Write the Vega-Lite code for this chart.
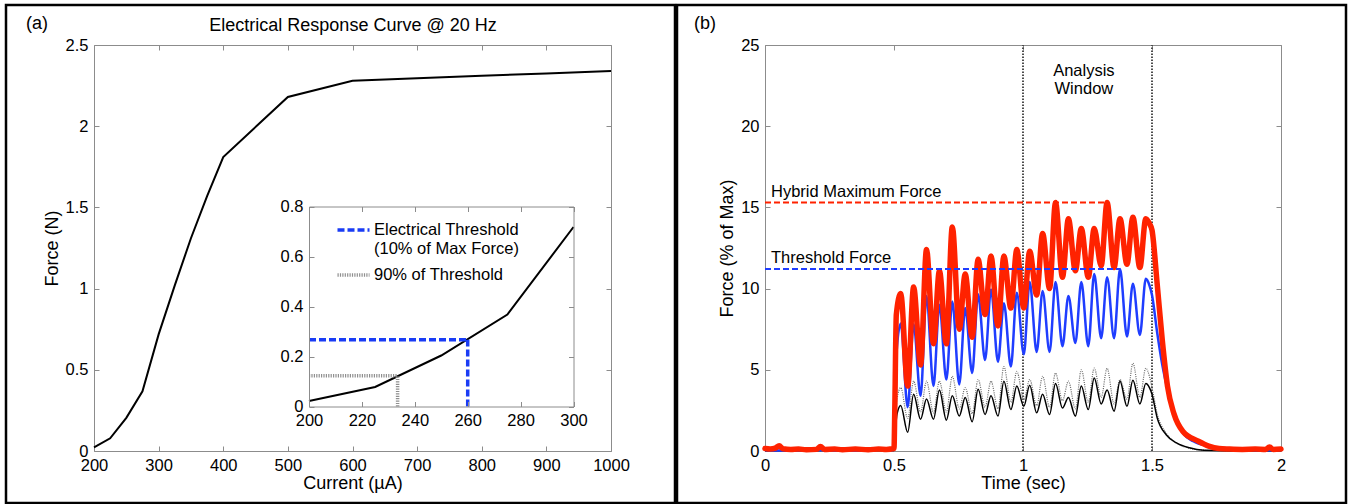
{
"$schema": "https://vega.github.io/schema/vega-lite/v6.json",
"background": "white",
"padding": {"left": 4, "top": 3, "right": 2, "bottom": 0},
"bounds": "flush",
"spacing": 2,
"config": {
  "font": "Liberation Sans",
  "view": {"stroke": "black", "strokeWidth": 2.5},
  "axis": {"grid": false, "domainColor": "#8c8c8c", "domainWidth": 1, "tickColor": "#8c8c8c", "tickWidth": 1, "tickSize": -5, "labelPadding": 11, "labelColor": "black", "labelFontSize": 16.5, "titleColor": "black", "titleFontSize": 18, "titleFontWeight": "normal", "labelFlush": false, "labelOverlap": false},
  "title": {"fontSize": 18, "fontWeight": "normal", "color": "black"}
},
"datasets": {
  "response": [{"current":200,"force":0.022},{"current":225,"force":0.078},{"current":250,"force":0.204},{"current":275,"force":0.368},{"current":300,"force":0.718},{"current":325,"force":1.02},{"current":350,"force":1.31},{"current":375,"force":1.57},{"current":400,"force":1.81},{"current":500,"force":2.18},{"current":600,"force":2.28},{"current":700,"force":2.295},{"current":800,"force":2.31},{"current":900,"force":2.325},{"current":1000,"force":2.34}],
  "thresholds": [
    {"series":"Electrical Threshold\n(10% of Max Force)","current":200,"current2":260,"force":0.267,"force2":0.267},
    {"series":"Electrical Threshold\n(10% of Max Force)","current":260,"current2":260,"force":0,"force2":0.267},
    {"series":"90% of Threshold","current":200,"current2":233.5,"force":0.123,"force2":0.123},
    {"series":"90% of Threshold","current":233.5,"current2":233.5,"force":0,"force2":0.123}],
  "hybrid": [{"time":0,"force":0.15},{"time":0.02,"force":0.12},{"time":0.04,"force":0.18},{"time":0.055,"force":0.32},{"time":0.07,"force":0.14},{"time":0.1,"force":0.1},{"time":0.13,"force":0.12},{"time":0.16,"force":0.08},{"time":0.2,"force":0.1},{"time":0.215,"force":0.28},{"time":0.23,"force":0.1},{"time":0.27,"force":0.12},{"time":0.3,"force":0.08},{"time":0.35,"force":0.12},{"time":0.4,"force":0.08},{"time":0.44,"force":0.12},{"time":0.47,"force":0.1},{"time":0.5,"force":0.15},{"time":0.503,"force":2.5},{"time":0.509,"force":8.4},{"time":0.526,"force":9.7},{"time":0.553,"force":4.0},{"time":0.576,"force":10.1},{"time":0.603,"force":5.3},{"time":0.626,"force":12.4},{"time":0.653,"force":6.6},{"time":0.676,"force":11.1},{"time":0.703,"force":6.6},{"time":0.726,"force":13.8},{"time":0.753,"force":7.5},{"time":0.776,"force":10.9},{"time":0.803,"force":7.0},{"time":0.826,"force":11.8},{"time":0.853,"force":8.4},{"time":0.876,"force":12.0},{"time":0.903,"force":7.7},{"time":0.926,"force":12.0},{"time":0.953,"force":8.8},{"time":0.976,"force":12.4},{"time":1.003,"force":8.8},{"time":1.026,"force":12.3},{"time":1.053,"force":9.6},{"time":1.076,"force":13.4},{"time":1.103,"force":10.0},{"time":1.126,"force":15.3},{"time":1.153,"force":10.7},{"time":1.176,"force":14.3},{"time":1.203,"force":11.1},{"time":1.226,"force":13.7},{"time":1.253,"force":10.7},{"time":1.276,"force":13.7},{"time":1.303,"force":11.4},{"time":1.326,"force":15.3},{"time":1.353,"force":11.3},{"time":1.376,"force":14.3},{"time":1.403,"force":11.5},{"time":1.426,"force":14.4},{"time":1.453,"force":11.3},{"time":1.476,"force":14.3},{"time":1.49,"force":14.0},{"time":1.5,"force":13.6},{"time":1.52,"force":10.3},{"time":1.54,"force":6.8},{"time":1.56,"force":4.0},{"time":1.585,"force":2.3},{"time":1.62,"force":1.2},{"time":1.68,"force":0.6},{"time":1.72,"force":0.3},{"time":1.76,"force":0.15},{"time":1.8,"force":0.12},{"time":1.85,"force":0.1},{"time":1.9,"force":0.12},{"time":1.94,"force":0.1},{"time":1.955,"force":0.25},{"time":1.97,"force":0.1},{"time":2.0,"force":0.12}],
  "threshold": [{"time":0,"force":0.05},{"time":0.1,"force":0.03},{"time":0.2,"force":0.06},{"time":0.3,"force":0.03},{"time":0.4,"force":0.05},{"time":0.45,"force":0.15},{"time":0.48,"force":0.05},{"time":0.5,"force":0.08},{"time":0.504,"force":1.5},{"time":0.511,"force":6.3},{"time":0.526,"force":7.85},{"time":0.553,"force":2.7},{"time":0.576,"force":7.8},{"time":0.603,"force":3.4},{"time":0.626,"force":9.55},{"time":0.653,"force":4.0},{"time":0.676,"force":9.0},{"time":0.703,"force":4.4},{"time":0.726,"force":9.2},{"time":0.753,"force":4.1},{"time":0.776,"force":8.8},{"time":0.803,"force":4.8},{"time":0.826,"force":9.65},{"time":0.853,"force":5.6},{"time":0.876,"force":9.95},{"time":0.903,"force":5.5},{"time":0.926,"force":9.1},{"time":0.953,"force":5.2},{"time":0.976,"force":9.75},{"time":1.003,"force":5.95},{"time":1.026,"force":10.4},{"time":1.053,"force":6.1},{"time":1.076,"force":9.85},{"time":1.103,"force":6.1},{"time":1.126,"force":10.4},{"time":1.153,"force":6.45},{"time":1.176,"force":9.55},{"time":1.203,"force":6.65},{"time":1.226,"force":10.4},{"time":1.253,"force":6.45},{"time":1.276,"force":10.9},{"time":1.303,"force":6.95},{"time":1.326,"force":10.7},{"time":1.353,"force":6.95},{"time":1.376,"force":11.2},{"time":1.403,"force":7.05},{"time":1.426,"force":10.3},{"time":1.453,"force":7.15},{"time":1.476,"force":10.6},{"time":1.49,"force":10.2},{"time":1.5,"force":9.6},{"time":1.52,"force":7.3},{"time":1.54,"force":5.3},{"time":1.56,"force":3.8},{"time":1.58,"force":2.5},{"time":1.62,"force":1.1},{"time":1.66,"force":0.6},{"time":1.72,"force":0.3},{"time":1.8,"force":0.15},{"time":1.88,"force":0.1},{"time":1.9,"force":0.05},{"time":2.0,"force":0.05}],
  "sub1": [{"time":0,"force":0.02},{"time":0.25,"force":0.03},{"time":0.5,"force":0.03},{"time":0.504,"force":1.0},{"time":0.512,"force":2.3},{"time":0.526,"force":2.8},{"time":0.553,"force":1.15},{"time":0.576,"force":3.5},{"time":0.603,"force":1.95},{"time":0.626,"force":3.2},{"time":0.653,"force":1.95},{"time":0.676,"force":3.75},{"time":0.703,"force":1.9},{"time":0.726,"force":3.4},{"time":0.753,"force":2.15},{"time":0.776,"force":3.3},{"time":0.803,"force":1.8},{"time":0.826,"force":3.8},{"time":0.853,"force":2.25},{"time":0.876,"force":3.4},{"time":0.903,"force":2.15},{"time":0.926,"force":4.3},{"time":0.953,"force":2.55},{"time":0.976,"force":4.0},{"time":1.003,"force":2.75},{"time":1.026,"force":4.05},{"time":1.053,"force":2.35},{"time":1.076,"force":3.5},{"time":1.103,"force":2.25},{"time":1.126,"force":4.15},{"time":1.153,"force":2.65},{"time":1.176,"force":3.3},{"time":1.203,"force":2.15},{"time":1.226,"force":4.0},{"time":1.253,"force":2.55},{"time":1.276,"force":4.5},{"time":1.303,"force":2.9},{"time":1.326,"force":3.75},{"time":1.353,"force":2.45},{"time":1.376,"force":4.3},{"time":1.403,"force":2.75},{"time":1.426,"force":4.35},{"time":1.453,"force":2.9},{"time":1.476,"force":4.15},{"time":1.49,"force":3.9},{"time":1.5,"force":3.5},{"time":1.52,"force":2.05},{"time":1.555,"force":1.0},{"time":1.595,"force":0.5},{"time":1.645,"force":0.2},{"time":1.7,"force":0.05},{"time":1.8,"force":0.02},{"time":2.0,"force":0.02}],
  "sub2": [{"time":0,"force":0.02},{"time":0.5,"force":0.02},{"time":0.504,"force":1.5},{"time":0.512,"force":3.2},{"time":0.526,"force":3.9},{"time":0.553,"force":2.0},{"time":0.576,"force":4.3},{"time":0.603,"force":2.4},{"time":0.626,"force":4.3},{"time":0.653,"force":2.35},{"time":0.676,"force":4.3},{"time":0.703,"force":2.4},{"time":0.726,"force":4.6},{"time":0.753,"force":2.6},{"time":0.776,"force":3.9},{"time":0.803,"force":2.3},{"time":0.826,"force":4.4},{"time":0.853,"force":2.7},{"time":0.876,"force":4.3},{"time":0.903,"force":2.6},{"time":0.926,"force":5.2},{"time":0.953,"force":3.0},{"time":0.976,"force":4.9},{"time":1.003,"force":3.15},{"time":1.026,"force":4.4},{"time":1.053,"force":2.8},{"time":1.076,"force":4.6},{"time":1.103,"force":2.7},{"time":1.126,"force":4.8},{"time":1.153,"force":3.1},{"time":1.176,"force":4.3},{"time":1.203,"force":2.6},{"time":1.226,"force":5.0},{"time":1.253,"force":3.0},{"time":1.276,"force":5.1},{"time":1.303,"force":3.3},{"time":1.326,"force":5.1},{"time":1.353,"force":2.9},{"time":1.376,"force":4.4},{"time":1.403,"force":3.2},{"time":1.426,"force":5.4},{"time":1.453,"force":3.3},{"time":1.476,"force":5.1},{"time":1.49,"force":4.6},{"time":1.5,"force":3.9},{"time":1.52,"force":2.3},{"time":1.555,"force":1.1},{"time":1.6,"force":0.45},{"time":1.65,"force":0.15},{"time":1.7,"force":0.05},{"time":1.85,"force":0.02},{"time":1.9,"force":0.12},{"time":1.93,"force":0.02},{"time":2.0,"force":0.02}],
  "window": [{"time":1,"force_min":0,"force_max":25},{"time":1.5,"force_min":0,"force_max":25}],
  "references": [{"name":"Hybrid Maximum Force","level":15.3,"start":0,"end":1.326},{"name":"Threshold Force","level":11.2,"start":0,"end":1.376}],
  "annotations": [{"label":"Analysis\nWindow","time":1.236,"force":23.4}]
},
"resolve": {"scale": {"color": "independent", "strokeDash": "independent"}},
"hconcat": [
  {
    "width": 669, "height": 498,
    "title": {"text": "(a)", "anchor": "start", "frame": "group", "dx": 20, "offset": -28, "fontSize": 18, "fontWeight": "normal"},
    "layer": [
      {
        "data": {"name": "response"},
        "layer": [
          {"mark": {"type": "line", "color": "black", "strokeWidth": 2},
           "encoding": {
             "x": {"field": "current", "type": "quantitative", "scale": {"domain": [200,1000], "range": [88,605], "nice": false, "zero": false}, "axis": {"orient": "bottom", "offset": -52, "values": [200,300,400,500,600,700,800,900,1000], "format": "d", "title": "Current (µA)", "titlePadding": 1}},
             "y": {"field": "force", "type": "quantitative", "scale": {"domain": [0,2.5], "range": [446,40], "nice": false, "zero": false}, "axis": {"orient": "left", "offset": -88, "values": [0,0.5,1,1.5,2,2.5], "format": "~g", "title": "Force (N)", "titlePadding": 4}}
           }},
          {"mark": {"type": "line", "opacity": 0},
           "encoding": {
             "x": {"field": "current", "type": "quantitative", "scale": {"domain": [200,1000], "range": [88,605], "nice": false, "zero": false}, "axis": {"orient": "top", "offset": -40, "values": [200,300,400,500,600,700,800,900,1000], "labels": false, "title": "Electrical Response Curve @ 20 Hz", "titlePadding": 10}},
             "y": {"field": "force", "type": "quantitative", "scale": {"domain": [0,2.5], "range": [446,40], "nice": false, "zero": false}, "axis": {"orient": "right", "offset": -64, "values": [0,0.5,1,1.5,2,2.5], "labels": false, "title": null}}
           }}
        ],
        "resolve": {"axis": {"x": "independent", "y": "independent"}}
      },
      {
        "layer": [
          {"data": {"name": "response"},
           "transform": [{"filter": "datum.current <= 300"}],
           "mark": {"type": "line", "color": "black", "strokeWidth": 2},
           "encoding": {
             "x": {"field": "current", "type": "quantitative", "scale": {"domain": [200,300], "range": [303,567.5], "nice": false, "zero": false}, "axis": {"orient": "bottom", "offset": -96.5, "values": [200,220,240,260,280,300], "format": "d", "title": null, "zindex": 1}},
             "y": {"field": "force", "type": "quantitative", "scale": {"domain": [0,0.8], "range": [401.5,201.5], "nice": false, "zero": false}, "axis": {"orient": "left", "offset": -303, "values": [0,0.2,0.4,0.6,0.8], "format": "~g", "title": null, "zindex": 1}}
           }},
          {"data": {"name": "thresholds"},
           "mark": {"type": "rule", "strokeWidth": 3.5},
           "encoding": {
             "x": {"field": "current", "type": "quantitative", "axis": null},
             "x2": {"field": "current2"},
             "y": {"field": "force", "type": "quantitative", "axis": null},
             "y2": {"field": "force2"},
             "color": {"field": "series", "type": "nominal", "scale": {"domain": ["Electrical Threshold\n(10% of Max Force)", "90% of Threshold"], "range": ["#1a3cf5", "#8f8f8f"]}, "legend": {"orient": "none", "legendX": 329.5, "legendY": 207, "title": null, "symbolType": "stroke", "symbolSize": 1024, "symbolStrokeWidth": 3.5, "labelFontSize": 16.5, "labelOffset": 2.5, "padding": 0, "rowPadding": -2, "labelExpr": "split(datum.label, '\\n')", "labelLimit": 0, "labelColor": "black"}},
             "strokeDash": {"field": "series", "type": "nominal", "scale": {"domain": ["Electrical Threshold\n(10% of Max Force)", "90% of Threshold"], "range": [[7,3],[1.2,1.2]]}, "legend": {"orient": "none", "legendX": 329.5, "legendY": 207, "title": null, "symbolType": "stroke", "symbolSize": 1024, "symbolStrokeWidth": 3.5, "labelFontSize": 16.5, "labelOffset": 2.5, "padding": 0, "rowPadding": -2, "labelExpr": "split(datum.label, '\\n')", "labelLimit": 0, "labelColor": "black"}}
           }},
          {"data": {"name": "response"},
           "transform": [{"filter": "datum.current <= 300"}],
           "mark": {"type": "line", "opacity": 0},
           "encoding": {
             "x": {"field": "current", "type": "quantitative", "axis": {"orient": "top", "offset": -201.5, "values": [200,220,240,260,280,300], "labels": false, "title": null, "zindex": 1}},
             "y": {"field": "force", "type": "quantitative", "axis": {"orient": "right", "offset": -101.5, "values": [0,0.2,0.4,0.6,0.8], "labels": false, "title": null, "zindex": 1}}
           }}
        ],
        "resolve": {"axis": {"x": "independent", "y": "independent"}}
      }
    ],
    "resolve": {"scale": {"x": "independent", "y": "independent"}, "axis": {"x": "independent", "y": "independent"}}
  },
  {
    "width": 669, "height": 498,
    "title": {"text": "(b)", "anchor": "start", "frame": "group", "dx": 17, "offset": -28, "fontSize": 18, "fontWeight": "normal"},
    "layer": [
      {"data": {"name": "window"},
       "mark": {"type": "rule", "color": "#4d4d4d", "strokeWidth": 2, "strokeDash": [1.5,1.5]},
       "encoding": {
         "x": {"field": "time", "type": "quantitative", "axis": null},
         "y": {"field": "force_min", "type": "quantitative", "axis": null},
         "y2": {"field": "force_max"}
       }},
      {"data": {"name": "sub2"},
       "mark": {"type": "line", "color": "#666666", "strokeWidth": 1.2, "strokeDash": [1,1.2], "interpolate": "monotone"},
       "encoding": {
         "x": {"field": "time", "type": "quantitative", "scale": {"domain": [0,2], "range": [88,604], "nice": false, "zero": false}, "axis": {"orient": "bottom", "offset": -52, "values": [0,0.5,1,1.5,2], "format": "~g", "title": "Time (sec)", "titlePadding": 1}},
         "y": {"field": "force", "type": "quantitative", "scale": {"domain": [0,25], "range": [446,40], "nice": false, "zero": false}, "axis": {"orient": "left", "offset": -88, "values": [0,5,10,15,20,25], "format": "~g", "title": "Force (% of Max)", "titlePadding": 4}}
       }},
      {"data": {"name": "sub1"},
       "mark": {"type": "line", "color": "black", "strokeWidth": 1.5, "interpolate": "monotone"},
       "encoding": {
         "x": {"field": "time", "type": "quantitative", "axis": null},
         "y": {"field": "force", "type": "quantitative", "axis": null}
       }},
      {"data": {"name": "threshold"},
       "mark": {"type": "line", "color": "#1f3dff", "strokeWidth": 2.5, "interpolate": "monotone"},
       "encoding": {
         "x": {"field": "time", "type": "quantitative", "axis": null},
         "y": {"field": "force", "type": "quantitative", "axis": null}
       }},
      {"data": {"name": "hybrid"},
       "mark": {"type": "line", "color": "#ff2200", "strokeWidth": 5.5, "interpolate": "monotone", "strokeJoin": "round", "strokeCap": "round"},
       "encoding": {
         "x": {"field": "time", "type": "quantitative", "axis": null},
         "y": {"field": "force", "type": "quantitative", "axis": null}
       }},
      {"data": {"name": "references"},
       "mark": {"type": "rule", "strokeWidth": 2, "strokeDash": [6,3]},
       "encoding": {
         "x": {"field": "start", "type": "quantitative", "axis": null},
         "x2": {"field": "end"},
         "y": {"field": "level", "type": "quantitative", "axis": null},
         "color": {"field": "name", "type": "nominal", "scale": {"domain": ["Hybrid Maximum Force", "Threshold Force"], "range": ["#ff2200", "#1f3dff"]}, "legend": null}
       }},
      {"data": {"name": "references"},
       "mark": {"type": "text", "align": "left", "baseline": "alphabetic", "dx": 6, "dy": -6, "fontSize": 16.5, "color": "black"},
       "encoding": {
         "x": {"field": "start", "type": "quantitative", "axis": null},
         "y": {"field": "level", "type": "quantitative", "axis": null},
         "text": {"field": "name"}
       }},
      {"data": {"name": "annotations"},
       "mark": {"type": "text", "align": "center", "baseline": "middle", "lineBreak": "\n", "lineHeight": 18.5, "fontSize": 16.5, "color": "black"},
       "encoding": {
         "x": {"field": "time", "type": "quantitative", "axis": null},
         "y": {"field": "force", "type": "quantitative", "axis": null},
         "text": {"field": "label"}
       }},
      {"data": {"name": "hybrid"},
       "mark": {"type": "line", "opacity": 0},
       "encoding": {
         "x": {"field": "time", "type": "quantitative", "axis": {"orient": "top", "offset": -40, "values": [0,0.5,1,1.5,2], "labels": false, "title": null}},
         "y": {"field": "force", "type": "quantitative", "axis": {"orient": "right", "offset": -65, "values": [0,5,10,15,20,25], "labels": false, "title": null}}
       }}
    ],
    "resolve": {"axis": {"x": "independent", "y": "independent"}}
  }
]
}
